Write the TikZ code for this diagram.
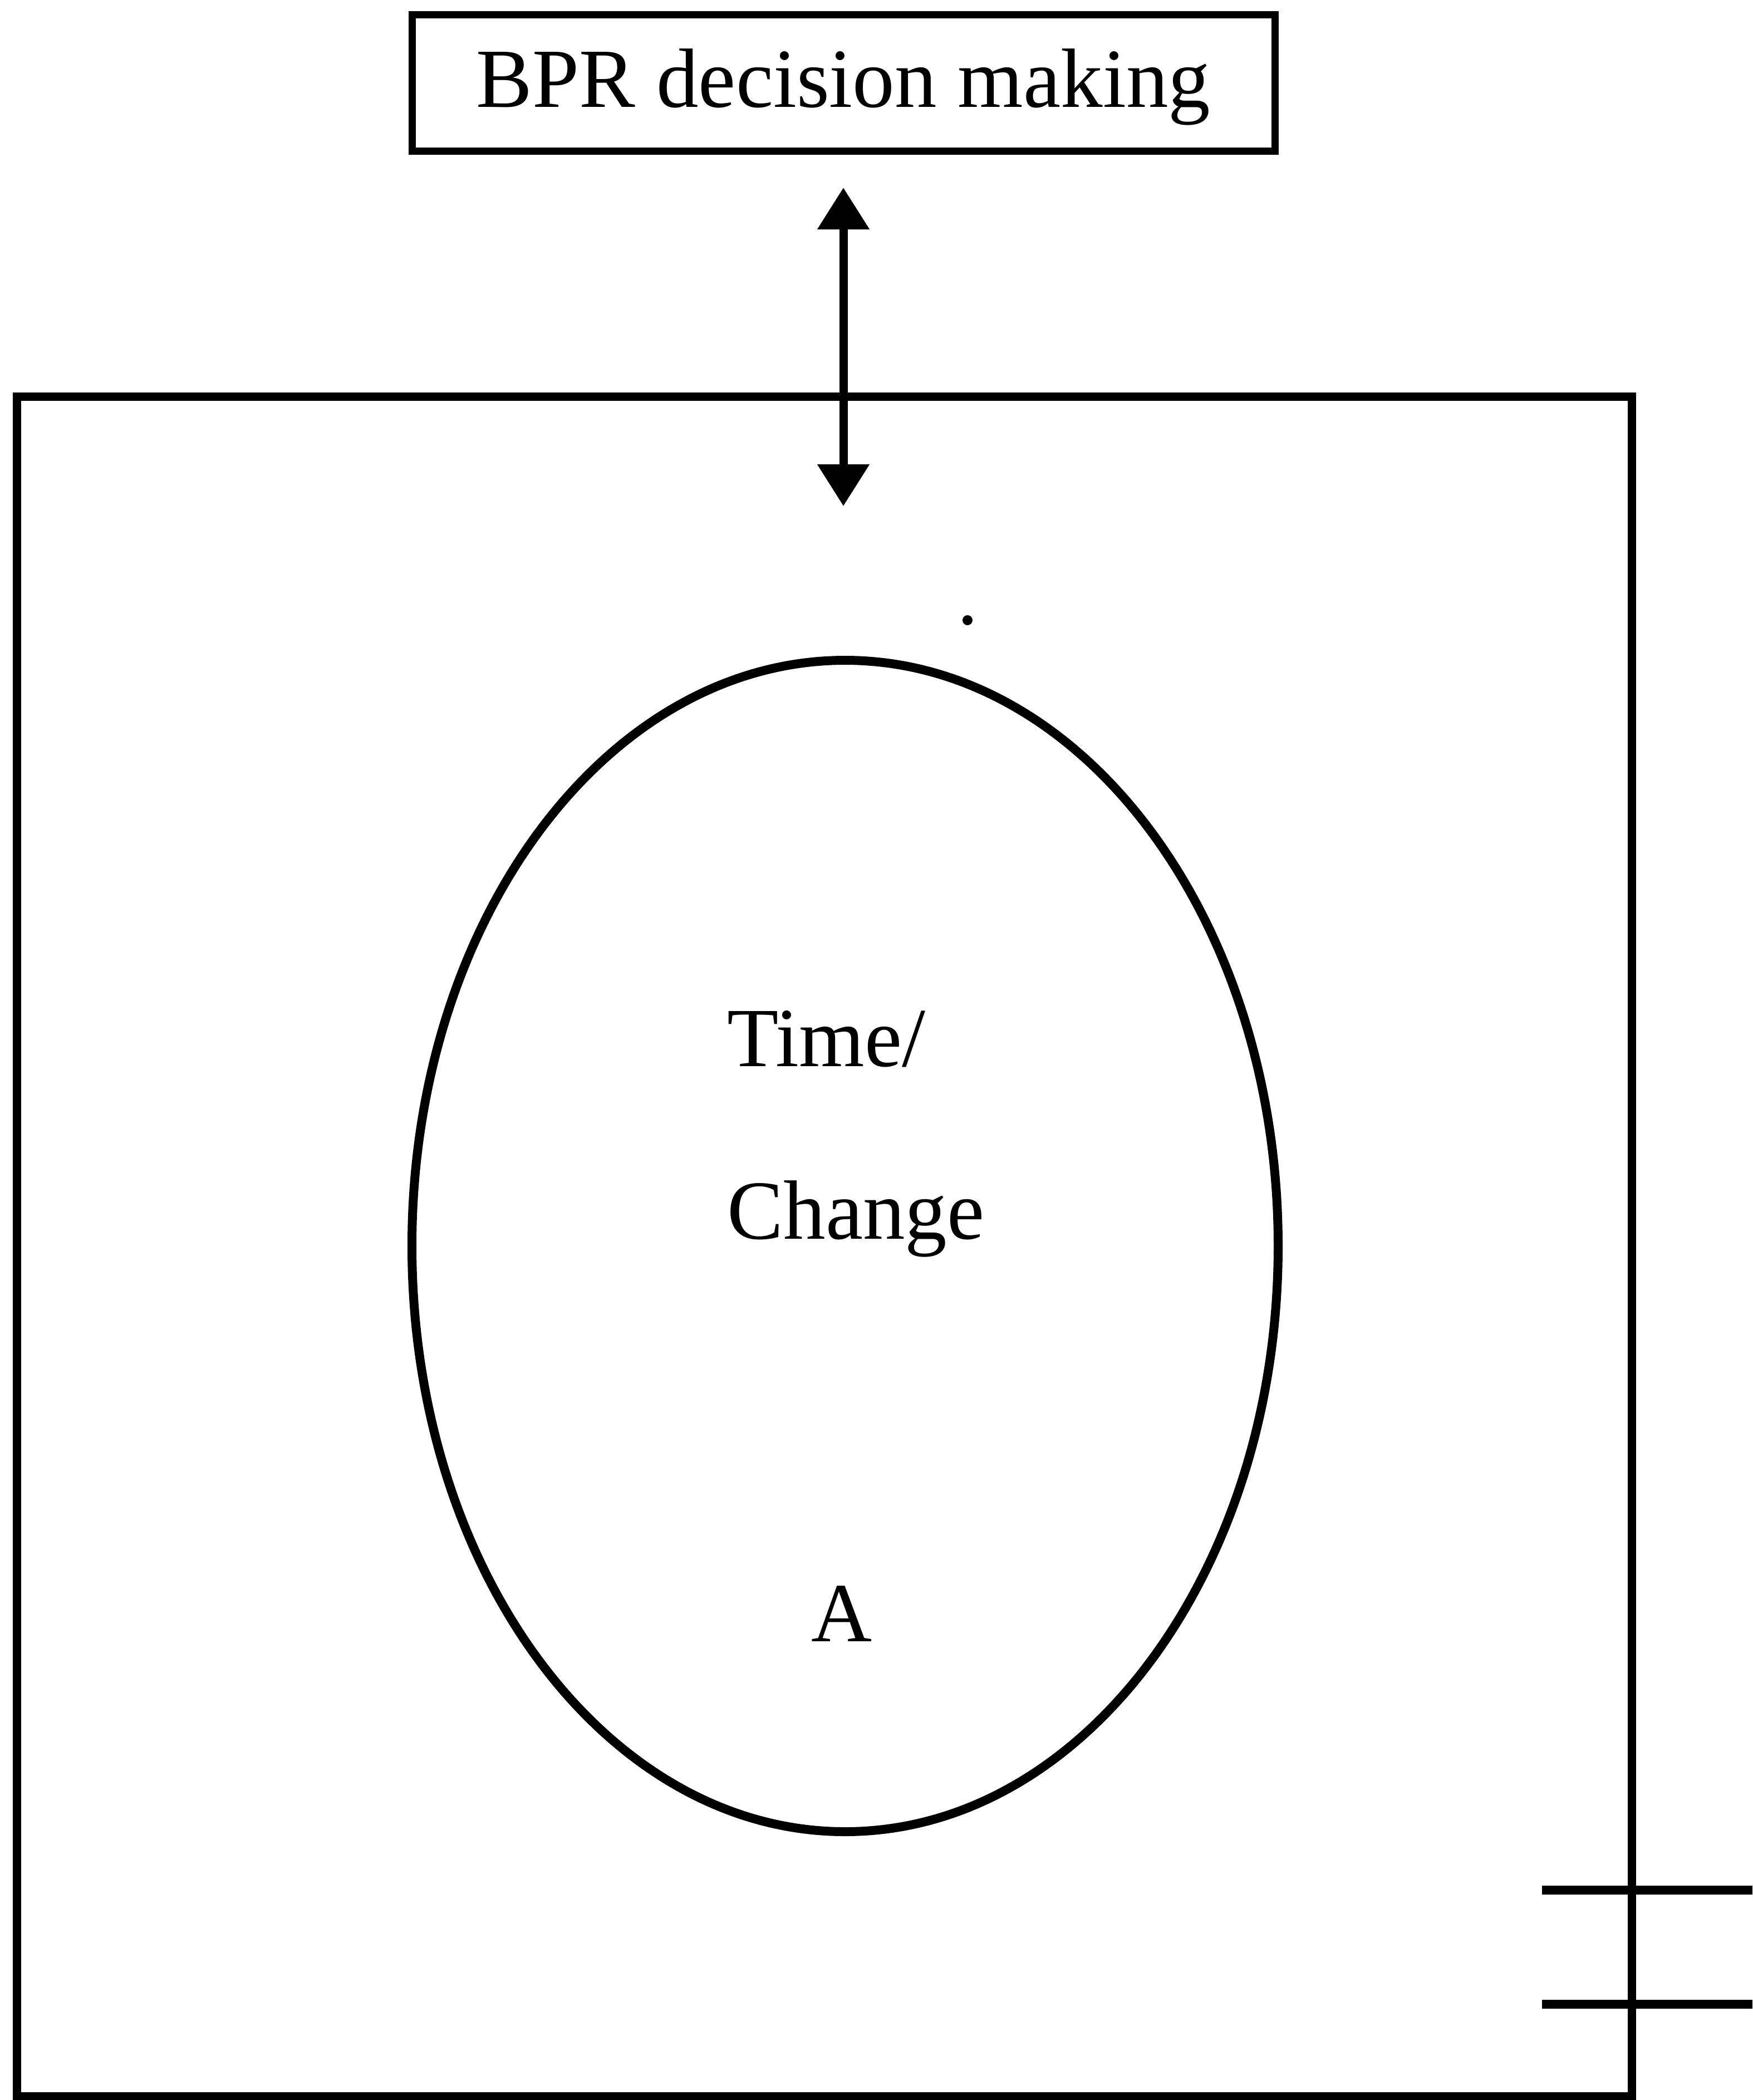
\documentclass[tikz,border=0pt]{standalone}
\usepackage{fontspec}
\setmainfont{Liberation Serif}
\usetikzlibrary{arrows.meta,shapes.geometric}
\begin{document}
\begin{tikzpicture}[
  thick line/.style={line width=0.15cm},
  boxstyle/.style={draw, line width=0.13cm, minimum width=15.5cm, minimum height=2.45cm, inner sep=0pt, text height=1.2cm, text depth=0.34cm, font=\fontsize{43pt}{50pt}\selectfont},
  labeltext/.style={inner sep=0pt, font=\fontsize{43pt}{50pt}\selectfont},
  dblarrow/.style={line width=0.15cm, {Triangle[width=0.9cm,length=0.75cm]}-{Triangle[width=0.9cm,length=0.75cm]}}
]
\useasboundingbox (0,0) rectangle (31.48,-37.72);
% top box
\node[boxstyle] (top) at (15.15,-1.49) {BPR decision making};
% outer frame
\draw[thick line] (0.30,-7.12) rectangle (29.31,-37.65);
% double arrow
\coordinate (a1) at (15.15,-3.37);
\coordinate (a2) at (15.15,-9.09);
\draw[dblarrow] (a1) -- (a2);
% small dot
\fill (17.38,-11.14) circle (0.09cm);
% ellipse
\node[draw, ellipse, line width=0.16cm, inner sep=0pt, minimum width=15.56cm, minimum height=21.04cm] (ell) at (15.18,-22.38) {};
% texts
\node[labeltext, anchor=base west] (t1) at (13.06,-19.15) {Time/};
\node[labeltext, anchor=base west] (t2) at (13.06,-22.25) {Change};
\node[labeltext, anchor=base] (t3) at (15.12,-29.48) {A};
% right tick lines
\coordinate (h1a) at (27.70,-33.95);
\coordinate (h1b) at (31.48,-33.95);
\coordinate (h2a) at (27.70,-36.00);
\coordinate (h2b) at (31.48,-36.00);
\draw[line width=0.16cm] (h1a) -- (h1b);
\draw[line width=0.16cm] (h2a) -- (h2b);
\end{tikzpicture}
\end{document}
